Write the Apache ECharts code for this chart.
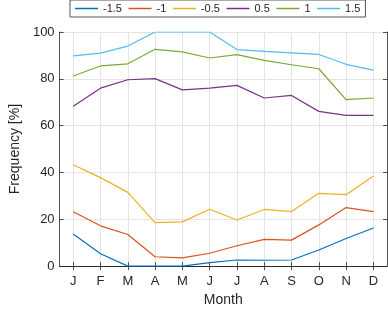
<!DOCTYPE html>
<html>
<head>
<meta charset="utf-8">
<script src="https://cdn.jsdelivr.net/npm/echarts@6/dist/echarts.min.js"></script>
<style>
  html, body { margin: 0; padding: 0; background: #fff; }
  #chart { width: 388px; height: 312px; }
</style>
</head>
<body>
<div id="chart"></div>
<script>
const months = ['J', 'F', 'M', 'A', 'M', 'J', 'J', 'A', 'S', 'O', 'N', 'D'];
const seriesNames = ['-1.5', '-1', '-0.5', '0.5', '1', '1.5'];
const seriesColors = ['#0072BD', '#D95319', '#EDB120', '#7E2F8E', '#77AC30', '#4DBEEE'];

const valsM15 = [13.7, 5.3, 0, 0, 0, 1.5, 2.6, 2.5, 2.6, 6.9, 11.8, 16.3];
const valsM10 = [23.2, 17.2, 13.5, 4.0, 3.5, 5.5, 8.7, 11.4, 11.1, 17.6, 25.0, 23.3];
const valsM05 = [43.3, 37.8, 31.5, 18.6, 18.9, 24.3, 19.7, 24.2, 23.3, 31.1, 30.5, 38.5];
const valsP05 = [68.3, 76.0, 79.6, 80.1, 75.3, 76.0, 77.2, 71.8, 72.9, 66.1, 64.4, 64.4];
const valsP10 = [81.2, 85.5, 86.4, 92.6, 91.5, 88.9, 90.3, 87.9, 86.0, 84.3, 71.1, 71.8];
const valsP15 = [89.8, 91.0, 94.0, 100, 100, 100, 92.5, 91.7, 91.1, 90.4, 86.2, 83.7];

const allVals = [valsM15, valsM10, valsM05, valsP05, valsP10, valsP15];

const chart = echarts.init(document.getElementById('chart'));
const font = 'Liberation Sans, Arial, Helvetica, sans-serif';
const axisColor = '#262626';
const gridColor = '#e4e4e4';

const tickStyle = { show: true, inside: true, length: 4, lineStyle: { color: axisColor, width: 0.8 } };

chart.setOption({
  animation: false,
  textStyle: { fontFamily: font },
  legend: {
    left: 70,
    top: 0,
    itemWidth: 23,
    itemHeight: 1.5,
    itemGap: 6.6,
    icon: 'rect',
    padding: [2, 5],
    borderColor: '#555',
    borderWidth: 1,
    textStyle: { fontSize: 11, color: axisColor, fontFamily: font, lineHeight: 13 },
    data: seriesNames
  },
  grid: { left: 42, right: 1, top: 32, bottom: 40 },
  xAxis: [
    {
      type: 'category',
      data: months,
      boundaryGap: true,
      position: 'bottom',
      name: 'Month',
      nameLocation: 'middle',
      nameGap: 24,
      nameTextStyle: { fontSize: 14, color: axisColor, fontFamily: font },
      axisLine: { lineStyle: { color: axisColor, width: 0.8 } },
      axisTick: Object.assign({ alignWithLabel: true }, tickStyle),
      axisLabel: { fontSize: 13, color: axisColor, margin: 9, fontFamily: font },
      splitLine: { show: true, alignWithLabel: true, lineStyle: { color: gridColor, width: 1 } }
    },
    {
      type: 'category',
      data: months,
      boundaryGap: true,
      position: 'top',
      axisLine: { lineStyle: { color: axisColor, width: 0.8 } },
      axisTick: Object.assign({ alignWithLabel: true }, tickStyle),
      axisLabel: { show: false },
      splitLine: { show: false }
    }
  ],
  yAxis: [
    {
      type: 'value',
      min: 0,
      max: 100,
      interval: 20,
      position: 'left',
      name: 'Frequency [%]',
      nameLocation: 'middle',
      nameGap: 31,
      nameTextStyle: { fontSize: 14, color: axisColor, fontFamily: font },
      axisLine: { show: true, lineStyle: { color: axisColor, width: 0.8 } },
      axisTick: tickStyle,
      axisLabel: { fontSize: 13, color: axisColor, margin: 5, fontFamily: font },
      splitLine: { show: true, lineStyle: { color: gridColor, width: 1 } }
    },
    {
      type: 'value',
      min: 0,
      max: 100,
      interval: 20,
      position: 'right',
      axisLine: { show: true, lineStyle: { color: axisColor, width: 0.8 } },
      axisTick: tickStyle,
      axisLabel: { show: false },
      splitLine: { show: false }
    }
  ],
  series: seriesNames.map((name, i) => ({
    name: name,
    type: 'line',
    data: allVals[i],
    xAxisIndex: 0,
    yAxisIndex: 0,
    showSymbol: false,
    symbol: 'none',
    color: seriesColors[i],
    lineStyle: { width: 1.2, color: seriesColors[i] }
  }))
});
</script>
</body>
</html>
